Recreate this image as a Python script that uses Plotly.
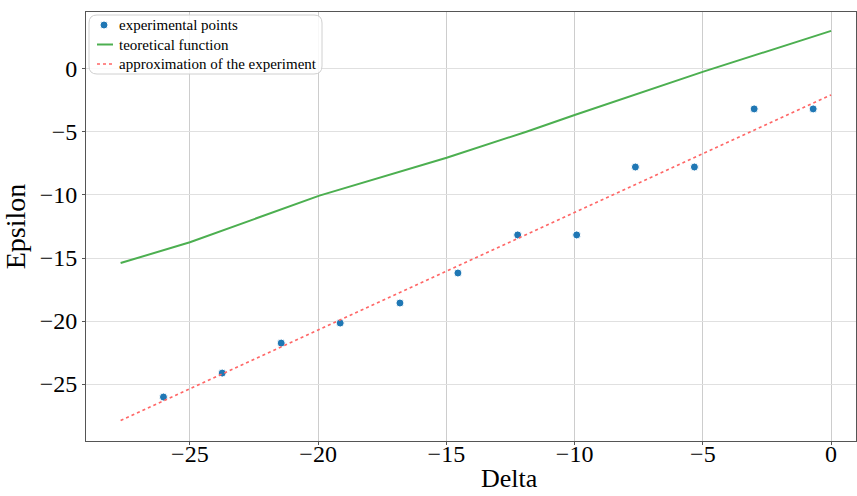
import plotly.graph_objects as go

# experimental points
delta_exp = [-26.03, -23.74, -21.44, -19.14, -16.81, -14.55, -12.22, -9.92, -7.63, -5.33, -3.0, -0.7]
eps_exp = [-26.03, -24.13, -21.75, -20.16, -18.57, -16.19, -13.17, -13.17, -7.78, -7.78, -3.17, -3.17]

# theoretical function
delta_theo = [-27.7, -25.0, -19.95, -14.99, -11.88, -10.0, -4.98, 0.0]
eps_theo = [-15.4, -13.75, -10.05, -7.04, -4.98, -3.65, -0.21, 3.02]

# approximation of the experiment
delta_fit = [-27.7, 0.0]
eps_fit = [-27.9, -2.06]

legend_labels = ["experimental points", "teoretical function", "approximation of the experiment"]
x_title, y_title = "Delta", "Epsilon"

serif = "Liberation Serif"
blue, green, red = "#1f77b4", "#4caf50", "#ff6666"

fig = go.Figure()
fig.add_trace(go.Scatter(x=delta_exp, y=eps_exp, mode="markers", name=legend_labels[0],
                         marker=dict(color=blue, size=8, line=dict(color="white", width=1))))
fig.add_trace(go.Scatter(x=delta_theo, y=eps_theo, mode="lines", name=legend_labels[1],
                         line=dict(color=green, width=2)))
fig.add_trace(go.Scatter(x=delta_fit, y=eps_fit, mode="lines", name=legend_labels[2],
                         line=dict(color=red, width=1.6, dash="dot")))

# compact, matplotlib-style legend drawn in paper coordinates
L, T, W, H = 86, 12, 770, 429
def px(x):
    return (x - L) / W
def py(y):
    return (T + H - y) / H

fs = 15
lh = fs * 1.3
rows = [25, 25 + lh, 25 + 2 * lh]
r = 8
x0, x1, y0, y1 = 89, 322, 15, rows[2] + 10
rounded = (f"M {px(x0 + r)} {py(y0)} L {px(x1 - r)} {py(y0)} Q {px(x1)} {py(y0)} {px(x1)} {py(y0 + r)} "
           f"L {px(x1)} {py(y1 - r)} Q {px(x1)} {py(y1)} {px(x1 - r)} {py(y1)} "
           f"L {px(x0 + r)} {py(y1)} Q {px(x0)} {py(y1)} {px(x0)} {py(y1 - r)} "
           f"L {px(x0)} {py(y0 + r)} Q {px(x0)} {py(y0)} {px(x0 + r)} {py(y0)} Z")
shapes = [
    dict(type="path", xref="paper", yref="paper", path=rounded,
         line=dict(color="#d0d0d0", width=1), fillcolor="rgba(255,255,255,0.85)", layer="above"),
    dict(type="circle", xref="paper", yref="paper", x0=px(100), x1=px(108), y0=py(rows[0] - 4), y1=py(rows[0] + 4),
         line=dict(color="white", width=1), fillcolor=blue, layer="above"),
    dict(type="line", xref="paper", yref="paper", x0=px(97), x1=px(113), y0=py(rows[1]), y1=py(rows[1]),
         line=dict(color=green, width=2), layer="above"),
    dict(type="line", xref="paper", yref="paper", x0=px(97), x1=px(113), y0=py(rows[2]), y1=py(rows[2]),
         line=dict(color=red, width=1.6, dash="dot"), layer="above"),
]
annotations = [
    dict(text="<br>".join(legend_labels), xref="paper", yref="paper",
         x=px(117), y=py(rows[1]), xanchor="left", yanchor="middle", align="left",
         showarrow=False, font=dict(family=serif, size=fs, color="black")),
    dict(text=x_title, xref="paper", yref="paper", x=px(510), y=py(495),
         xanchor="center", yanchor="bottom", showarrow=False,
         font=dict(family=serif, size=26, color="black")),
]

fig.update_layout(
    width=857, height=496,
    margin=dict(l=L, r=857 - L - W, t=T, b=496 - T - H),
    plot_bgcolor="white", paper_bgcolor="white",
    font=dict(family=serif, color="black"),
    showlegend=False,
    shapes=shapes,
    annotations=annotations,
)
fig.update_xaxes(range=[-29.05, 0.97], tickvals=[-25, -20, -15, -10, -5, 0],
                 ticktext=["−25", "−20", "−15", "−10", "−5", "0"],
                 showgrid=True, gridcolor="#cdcdcd", gridwidth=1.2, zeroline=False,
                 showline=True, linecolor="#555555", linewidth=1, mirror=True,
                 ticks="outside", ticklen=3, tickcolor="#555555", ticklabelstandoff=-12,
                 tickfont=dict(family=serif, size=24))
fig.update_yaxes(range=[-29.52, 4.52], tickvals=[0, -5, -10, -15, -20, -25],
                 ticktext=["0", "−5", "−10", "−15", "−20", "−25"],
                 showgrid=True, gridcolor="#e0e0e0", gridwidth=1, zeroline=False,
                 showline=True, linecolor="#555555", linewidth=1, mirror=True,
                 ticks="outside", ticklen=3, tickcolor="#555555",
                 tickfont=dict(family=serif, size=24),
                 title=dict(text=y_title, font=dict(family=serif, size=28), standoff=10))

fig.write_html("out.html")
